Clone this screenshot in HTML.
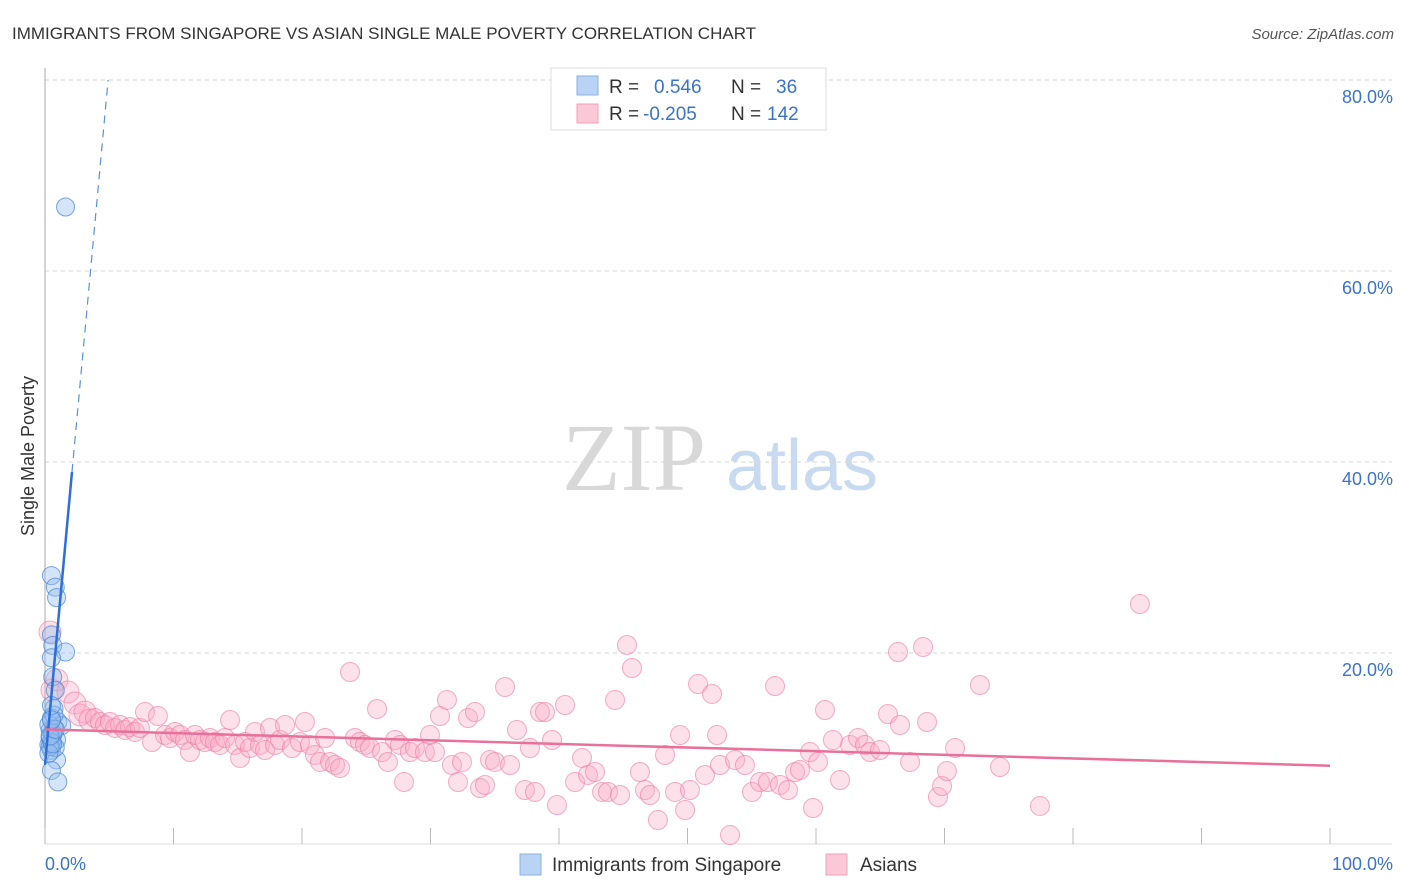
<!DOCTYPE html>
<html><head><meta charset="utf-8"><style>
body{margin:0;background:#fff;font-family:"Liberation Sans",sans-serif}
svg{display:block}
</style></head><body>
<svg width="1406" height="892" id="chart">
<text x="12" y="39" font-size="17" fill="#333">IMMIGRANTS FROM SINGAPORE VS ASIAN SINGLE MALE POVERTY CORRELATION CHART</text>
<text x="1394" y="39" font-size="15" fill="#555" font-style="italic" text-anchor="end">Source: ZipAtlas.com</text>
<g>
<text x="634" y="490" font-size="96" fill="#d8d8d8" font-family="Liberation Serif,serif" text-anchor="middle">ZIP</text>
<text x="802" y="490" font-size="72" fill="#c8daf0" text-anchor="middle">atlas</text>
</g>
<g id="grid"></g>
<g id="axes"></g>
<text transform="translate(34,456) rotate(-90)" font-size="18" fill="#333" text-anchor="middle">Single Male Poverty</text>
<g id="pts"></g>
<g id="lines"></g>
<g>
<rect x="551" y="68" width="275" height="62" fill="#fff" stroke="#ddd"/>
<rect x="577" y="76" width="21" height="19" fill="#b9d3f5" stroke="#8ab0e0"/>
<rect x="577" y="104" width="21" height="19" fill="#fbc8d8" stroke="#f0a0b8"/>
<text x="609" y="93" font-size="19" fill="#333">R =</text>
<text x="654" y="93" font-size="19" fill="#3b73c8">0.546</text>
<text x="731" y="93" font-size="19" fill="#333">N =</text>
<text x="776" y="93" font-size="19" fill="#3b73c8">36</text>
<text x="609" y="120" font-size="19" fill="#333">R =</text>
<text x="643" y="120" font-size="19" fill="#3b73c8">-0.205</text>
<text x="731" y="120" font-size="19" fill="#333">N =</text>
<text x="767" y="120" font-size="19" fill="#3b73c8">142</text>
</g>
<g>
<rect x="520" y="854" width="21" height="21" fill="#b9d3f5" stroke="#8ab0e0"/>
<text x="552" y="871" font-size="19" fill="#333">Immigrants from Singapore</text>
<rect x="826" y="854" width="21" height="21" fill="#fbc8d8" stroke="#f0a0b8"/>
<text x="860" y="871" font-size="19" fill="#333">Asians</text>
</g>
</svg>
<script>
const yTicks=[20,40,60,80];
const yTickLabels=["20.0%","40.0%","60.0%","80.0%"];
const xEndLabels=["0.0%","100.0%"];
const blueX=[1.6,0.5,0.8,0.9,0.5,0.6,1.6,0.5,0.6,0.8,0.7,0.5,1.0,1.3,0.4,0.6,0.9,0.3,0.5,0.7,0.9,0.5,1.0,0.4,0.8,0.5,0.3,0.6,0.4,0.7,0.5,0.3,0.6,0.4,0.8,0.5];
const blueY=[66.7,28.1,26.9,25.8,21.9,20.8,20.1,19.5,17.5,16.1,14.2,13.2,12.8,12.4,11.9,11.4,10.9,10.4,9.8,12.1,8.8,7.7,6.5,11.1,10.1,10.7,12.5,11.6,10.2,13.5,14.5,9.5,10.5,11.3,12.0,13.0];
const pinkPx=[[50,632],[52,690],[57,680],[68,692],[75,703],[80,715],[85,712],[90,720],[95,718],[100,722],[105,725],[110,722],[115,728],[120,725],[125,730],[130,727],[135,732],[140,728],[145,712],[152,742],[158,716],[165,735],[170,738],[175,732],[180,735],[185,740],[190,752],[195,735],[200,740],[205,742],[210,738],[215,742],[220,745],[225,738],[230,720],[235,745],[240,758],[245,742],[250,748],[255,732],[260,745],[265,750],[270,728],[275,745],[280,740],[285,725],[292,748],[300,742],[305,722],[310,745],[315,755],[320,762],[325,738],[330,762],[335,765],[340,768],[350,672],[355,738],[360,742],[365,745],[370,748],[377,709],[382,752],[388,762],[395,740],[400,745],[404,782],[410,752],[415,748],[425,752],[430,735],[435,752],[440,716],[447,700],[452,765],[458,782],[462,762],[468,718],[475,712],[480,788],[485,785],[490,760],[495,762],[505,687],[510,765],[517,730],[525,790],[530,748],[535,792],[540,712],[545,712],[552,740],[557,805],[565,705],[575,782],[582,758],[588,775],[595,772],[602,792],[608,792],[615,700],[620,795],[627,645],[632,668],[640,772],[645,790],[650,795],[658,820],[665,755],[675,792],[680,735],[685,810],[690,790],[698,684],[705,775],[712,694],[717,735],[720,765],[730,835],[735,760],[745,765],[752,792],[760,782],[768,782],[775,686],[780,785],[788,790],[795,772],[800,770],[810,752],[813,808],[818,762],[825,710],[833,740],[840,780],[850,745],[858,738],[865,745],[870,752],[880,750],[888,714],[898,652],[900,725],[910,762],[923,647],[927,722],[938,797],[942,786],[947,771],[955,748],[980,685],[1000,767],[1040,806],[1140,604]];
// convert read pixel estimates to data values
const pinkX=pinkPx.map(p=>+((p[0]-45)/12.85).toFixed(2));
const pinkY=pinkPx.map(p=>+((844-p[1])/9.55).toFixed(2));
const blueTrend=[8.3,14.6]; // intercept, slope
const pinkTrend=[12.0,8.2]; // y at x=0, y at x=100

const X0=45,X1=1330,Y0=844,YTOP=80;
const sx=v=>X0+(X1-X0)*v/100;
const sy=v=>Y0-(Y0-YTOP)*v/80;
const NS="http://www.w3.org/2000/svg";
function mk(tag,attrs,parent){const e=document.createElementNS(NS,tag);for(const k in attrs)e.setAttribute(k,attrs[k]);parent.appendChild(e);return e;}
const grid=document.getElementById('grid'),axes=document.getElementById('axes'),pts=document.getElementById('pts'),lines=document.getElementById('lines');
yTicks.forEach((t,i)=>{
 const l=mk('line',{x1:X0,x2:1392,y1:sy(t),y2:sy(t),stroke:'#d6d6d6','stroke-dasharray':'4,4'},grid);
 
 
 const tx=mk('text',{x:1393,y:sy(t)+23,'font-size':18,fill:'#3b73c8','text-anchor':'end'},axes);
 tx.textContent=yTickLabels[i];
 
 
});
mk('line',{x1:X0,x2:X0,y1:68,y2:Y0,stroke:'#aaa'},axes);
mk('line',{x1:X0,x2:1392,y1:Y0,y2:Y0,stroke:'#ddd'},axes);
for(let i=0;i<=10;i++){const t=mk('line',{x1:sx(i*10),x2:sx(i*10),y1:828,y2:Y0,stroke:'#bbb'},axes);
 
 }
const xl0=mk('text',{x:45,y:870,'font-size':18,fill:'#3b73c8'},axes);xl0.textContent=xEndLabels[0];


const xl1=mk('text',{x:1393,y:870,'font-size':18,fill:'#3b73c8','text-anchor':'end'},axes);xl1.textContent=xEndLabels[1];


pinkX.forEach((x,i)=>{const c=mk('circle',{cx:sx(x),cy:sy(pinkY[i]),r:i<8?11:9.5,fill:'rgba(248,170,195,0.35)',stroke:'rgba(236,120,160,0.6)','stroke-width':1},pts);
 
 });
blueX.forEach((x,i)=>{const c=mk('circle',{cx:sx(x),cy:sy(blueY[i]),r:9,fill:'rgba(150,190,240,0.4)',stroke:'rgba(70,130,210,0.7)','stroke-width':1},pts);
 
 });
const bx=2.1;
const bl=mk('line',{x1:sx(0),y1:sy(blueTrend[0]),x2:sx(bx),y2:sy(blueTrend[0]+blueTrend[1]*bx),stroke:'#2d6fd6','stroke-width':2.5},lines);


const bxe=(80-blueTrend[0])/blueTrend[1];
const bd=mk('line',{x1:sx(bx),y1:sy(blueTrend[0]+blueTrend[1]*bx),x2:sx(bxe),y2:sy(80),stroke:'#5a8fdc','stroke-width':1.2,'stroke-dasharray':'8,6'},lines);


const pl=mk('line',{x1:sx(0),y1:sy(pinkTrend[0]),x2:sx(100),y2:sy(pinkTrend[1]),stroke:'#e8709a','stroke-width':2.5},lines);


</script>
</body></html>
